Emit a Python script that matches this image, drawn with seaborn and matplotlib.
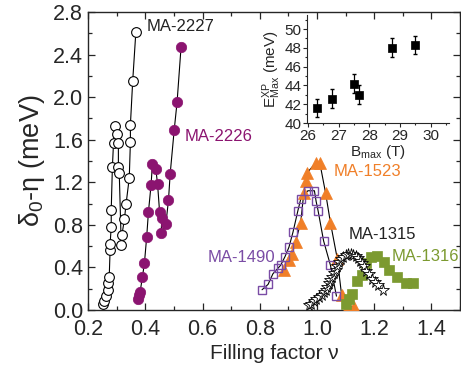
import matplotlib
matplotlib.use('Agg')
import matplotlib.pyplot as plt
import seaborn as sns
from matplotlib.ticker import MultipleLocator

sns.set_style('ticks')
plt.rcParams['font.family'] = ['Liberation Sans', 'DejaVu Sans']
plt.rcParams['mathtext.fontset'] = 'custom'
plt.rcParams['mathtext.rm'] = 'Liberation Sans'
plt.rcParams['mathtext.it'] = 'Liberation Sans:italic'

# ---- data ----
nu_2227 = [0.251, 0.256, 0.263, 0.268, 0.271, 0.274, 0.277, 0.277, 0.281, 0.281, 0.285, 0.289, 0.295,
           0.300, 0.306, 0.306, 0.309, 0.316, 0.318, 0.327, 0.333, 0.344, 0.348, 0.348, 0.356, 0.367]
d_2227 = [0.06, 0.08, 0.13, 0.19, 0.25, 0.31, 0.56, 0.62, 0.78, 0.94, 1.34, 1.57, 1.73,
          1.65, 1.57, 1.34, 1.29, 0.61, 0.70, 0.85, 1.00, 1.24, 1.58, 1.74, 2.15, 2.61]

nu_2226 = [0.374, 0.378, 0.382, 0.390, 0.397, 0.405, 0.411, 0.420, 0.425, 0.437, 0.443, 0.450, 0.458,
           0.455, 0.472, 0.481, 0.487, 0.501, 0.511, 0.525]
d_2226 = [0.10, 0.14, 0.17, 0.31, 0.44, 0.69, 0.92, 1.17, 1.37, 1.32, 1.18, 0.92, 0.86,
          0.72, 0.81, 1.03, 1.28, 1.69, 1.95, 2.47]

nu_1490 = [0.808, 0.829, 0.846, 0.863, 0.873, 0.888, 0.902, 0.916, 0.933, 0.943, 0.968, 0.991,
           0.997, 1.004, 1.023, 1.047, 1.068]
d_1490 = [0.19, 0.24, 0.34, 0.39, 0.42, 0.50, 0.59, 0.73, 0.93, 1.04, 1.12, 1.12,
          1.02, 0.93, 0.65, 0.42, 0.13]

nu_1523 = [0.884, 0.902, 0.914, 0.925, 0.943, 0.954, 0.960, 0.966, 0.995, 1.010, 1.030, 1.047,
           1.071, 1.086, 1.110, 1.130]
d_1523 = [0.38, 0.47, 0.53, 0.64, 0.82, 1.10, 1.21, 1.29, 1.38, 1.38, 1.10, 0.82,
          0.48, 0.14, 0.03, 0.03]

nu_1315 = [0.972, 0.980, 0.989, 0.998, 1.007, 1.016, 1.024, 1.030, 1.036, 1.042, 1.047, 1.053,
           1.059, 1.065, 1.071, 1.077, 1.083, 1.092, 1.100, 1.110, 1.118, 1.127, 1.135, 1.143,
           1.150, 1.157, 1.164, 1.172, 1.181, 1.193, 1.203, 1.213, 1.232]
d_1315 = [0.05, 0.06, 0.08, 0.10, 0.12, 0.14, 0.17, 0.19, 0.22, 0.25, 0.28, 0.31,
          0.35, 0.38, 0.41, 0.45, 0.48, 0.50, 0.52, 0.53, 0.53, 0.52, 0.51, 0.49,
          0.46, 0.44, 0.41, 0.37, 0.34, 0.29, 0.26, 0.23, 0.19]

nu_1316 = [1.100, 1.112, 1.124, 1.141, 1.158, 1.170, 1.188, 1.211, 1.234, 1.252, 1.281, 1.311, 1.334]
d_1316 = [0.06, 0.10, 0.15, 0.27, 0.33, 0.44, 0.50, 0.51, 0.45, 0.38, 0.31, 0.25, 0.25]

# inset: maximum field vs experimental energy
b_max = [26.3, 26.8, 27.5, 27.65, 28.75, 29.5]
e_max = [41.6, 42.6, 44.2, 43.0, 48.0, 48.3]
e_err = [1.0, 1.0, 1.0, 1.0, 1.0, 1.0]

# colours
c_2226 = '#8B1470'
c_1490 = '#7A4CA5'
c_1523 = '#F07F28'
c_1316 = '#7C9A30'

fig = plt.figure(figsize=(4.61, 3.73), dpi=100)
ax = fig.add_axes([0.191, 0.169, 0.807, 0.799])


def curve(x, y, line=True, **mk):
    if line:
        sns.lineplot(x=x, y=y, sort=False, estimator=None, color='black', lw=0.8, ax=ax, zorder=2)
    ax.plot(x, y, ls='none', zorder=3, **mk)


curve(nu_2227, d_2227, marker='o', ms=7, mfc='white', mec='black', mew=0.8)
curve(nu_2226, d_2226, marker='o', ms=7.5, mfc=c_2226, mec=c_2226, mew=0.5)
curve(nu_1523, d_1523, marker='^', ms=8, mfc=c_1523, mec=c_1523, mew=0.5)
curve(nu_1490, d_1490, marker='s', ms=6, mfc='none', mec=c_1490, mew=1.0)
curve(nu_1316, d_1316, line=False, marker='s', ms=7.5, mfc=c_1316, mec=c_1316, mew=0.5)
curve(nu_1315, d_1315, line=False, marker='*', ms=8.5, mfc='white', mec='black', mew=0.6)

ax.text(0.406, 2.66, 'MA-2227', color='#222222', fontsize=12, va='center')
ax.text(0.536, 1.63, 'MA-2226', color=c_2226, fontsize=12, va='center')
ax.text(1.058, 1.30, 'MA-1523', color=c_1523, fontsize=12, va='center')
ax.text(0.617, 0.49, 'MA-1490', color=c_1490, fontsize=12, va='center')
ax.text(1.110, 0.71, 'MA-1315', color='#222222', fontsize=12, va='center')
ax.text(1.262, 0.50, 'MA-1316', color=c_1316, fontsize=12, va='center')

ax.set_xlim(0.2, 1.5)
ax.set_ylim(0.0, 2.8)
ax.xaxis.set_major_locator(MultipleLocator(0.2))
ax.xaxis.set_minor_locator(MultipleLocator(0.1))
ax.yaxis.set_major_locator(MultipleLocator(0.4))
ax.yaxis.set_minor_locator(MultipleLocator(0.2))
ax.tick_params(which='both', direction='in', top=True, right=True, labelsize=15.5, width=0.9)
ax.tick_params(axis='x', pad=6.5)
ax.tick_params(axis='y', pad=3.5)
ax.tick_params(which='major', length=5)
ax.tick_params(which='minor', length=3)
for s in ax.spines.values():
    s.set_linewidth(1.0)
ax.set_xlabel('Filling factor ν', fontsize=15, labelpad=3)
ax.set_ylabel('δ$_0$-η (meV)', fontsize=19.5, labelpad=4)

# inset
ins = fig.add_axes([0.666, 0.670, 0.308, 0.290])
ins.errorbar(b_max, e_max, yerr=e_err, fmt='none', ecolor='black', elinewidth=0.9, capsize=1.5, zorder=2)
sns.scatterplot(x=b_max, y=e_max, marker='s', s=40, color='black', edgecolor='black', ax=ins, zorder=3)
ins.set_xlim(25.97, 30.6)
ins.set_ylim(40, 51.5)
ins.xaxis.set_major_locator(MultipleLocator(1))
ins.xaxis.set_minor_locator(MultipleLocator(0.5))
ins.yaxis.set_major_locator(MultipleLocator(2))
ins.yaxis.set_minor_locator(MultipleLocator(1))
ins.tick_params(which='both', direction='out', labelsize=11, width=0.8, pad=1)
ins.tick_params(which='major', length=3)
ins.tick_params(which='minor', length=1.5)
ins.spines['top'].set_visible(False)
ins.spines['right'].set_visible(False)
ins.patch.set_alpha(0)
ins.set_xlabel(r'B$_{\mathrm{max}}$ (T)', fontsize=11, labelpad=0)
ins.set_ylabel(r'E$^{\mathrm{XP}}_{\mathrm{Max}}$ (meV)', fontsize=11, labelpad=1)

fig.savefig('out.png', dpi=100)
